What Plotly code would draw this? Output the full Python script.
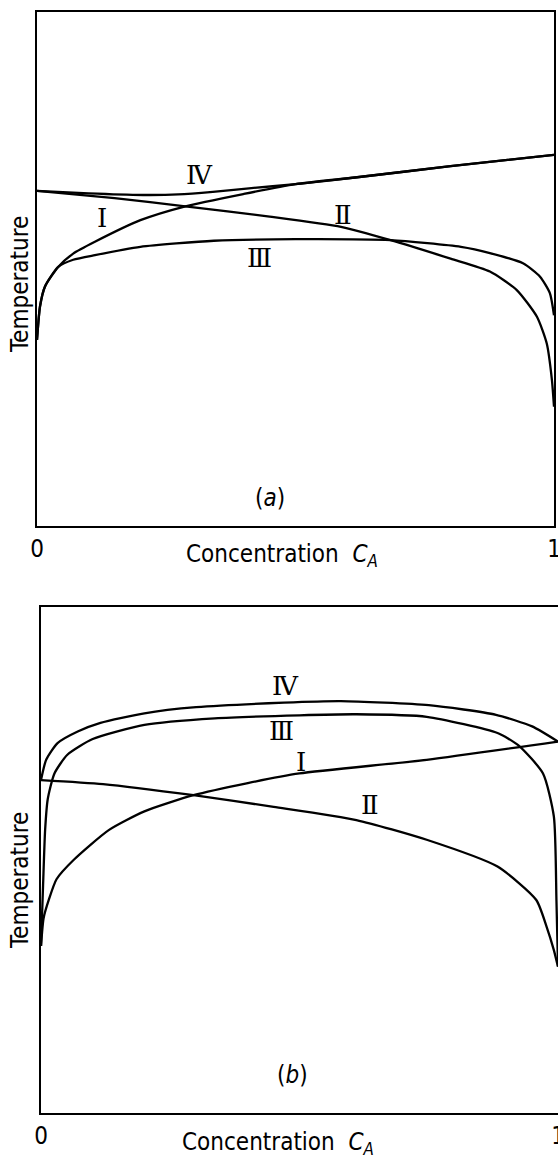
import plotly.graph_objects as go

# ---------- Panel (a) data (x: concentration C_A 0..1, y: relative temperature 0..1) ----------
a_I_x = [0, 0.0058, 0.0155, 0.041, 0.07, 0.112, 0.2, 0.287, 0.4, 0.5, 0.615, 0.8, 1.0]
a_I_y = [0.362, 0.427, 0.466, 0.504, 0.530, 0.553, 0.595, 0.622, 0.646, 0.665, 0.678, 0.700, 0.722]

a_II_x = [0, 0.15, 0.287, 0.45, 0.588, 0.684, 0.8, 0.876, 0.928, 0.967, 0.986, 0.996, 1.0]
a_II_y = [0.652, 0.638, 0.622, 0.602, 0.582, 0.556, 0.520, 0.495, 0.459, 0.407, 0.355, 0.284, 0.232]

a_III_x = [0, 0.0058, 0.0155, 0.041, 0.07, 0.112, 0.2, 0.342, 0.5, 0.684, 0.82, 0.876, 0.94, 0.973, 0.992, 1.0]
a_III_y = [0.362, 0.427, 0.466, 0.504, 0.518, 0.527, 0.543, 0.555, 0.558, 0.556, 0.543, 0.531, 0.511, 0.485, 0.453, 0.410]

a_IV_x = [0, 0.1, 0.205, 0.273, 0.34, 0.41, 0.5, 0.615, 0.8, 1.0]
a_IV_y = [0.652, 0.647, 0.644, 0.645, 0.650, 0.657, 0.665, 0.678, 0.700, 0.722]

# ---------- Panel (b) data ----------
b_I_x = [0, 0.005, 0.015, 0.03, 0.063, 0.131, 0.2, 0.295, 0.4, 0.5, 0.746, 1.0]
b_I_y = [0.33, 0.385, 0.421, 0.462, 0.500, 0.559, 0.596, 0.628, 0.652, 0.671, 0.698, 0.734]

b_II_x = [0, 0.12, 0.295, 0.45, 0.61, 0.746, 0.883, 0.958, 0.978, 0.992, 1.0]
b_II_y = [0.658, 0.650, 0.628, 0.605, 0.579, 0.540, 0.487, 0.421, 0.368, 0.322, 0.289]

b_III_x = [0, 0.004, 0.008, 0.013, 0.026, 0.051, 0.1, 0.2, 0.336, 0.5, 0.61, 0.746, 0.883, 0.923, 0.971, 0.992, 0.997, 1.0]
b_III_y = [0.33, 0.45, 0.56, 0.62, 0.671, 0.708, 0.739, 0.767, 0.780, 0.786, 0.788, 0.783, 0.751, 0.727, 0.671, 0.586, 0.42, 0.29]

b_IV_x = [0, 0.01, 0.032, 0.071, 0.115, 0.2, 0.3, 0.47, 0.58, 0.75, 0.88, 0.95, 1.0]
b_IV_y = [0.658, 0.698, 0.731, 0.754, 0.771, 0.790, 0.802, 0.811, 0.814, 0.806, 0.787, 0.764, 0.734]

curve_names = ["Ⅰ", "Ⅱ", "Ⅲ", "Ⅳ"]
tick_vals = [0, 1]
tick_text = ["0", "1"]

W, H = 558, 1156
FONT = "DejaVu Sans Condensed, DejaVu Sans, sans-serif"
SERIF = "DejaVu Serif, Liberation Serif, serif"
LINE = dict(color="black", width=2.3, shape="spline", smoothing=0.6)

fig = go.Figure()
panels = [
    ("x", "y", [(a_I_x, a_I_y), (a_II_x, a_II_y), (a_III_x, a_III_y), (a_IV_x, a_IV_y)]),
    ("x2", "y2", [(b_I_x, b_I_y), (b_II_x, b_II_y), (b_III_x, b_III_y), (b_IV_x, b_IV_y)]),
]
for xa, ya, curves in panels:
    for name, (cx, cy) in zip(curve_names, curves):
        fig.add_trace(go.Scatter(x=cx, y=cy, mode="lines", line=LINE, name=name,
                                 xaxis=xa, yaxis=ya, showlegend=False, hoverinfo="skip"))

axis_common = dict(showgrid=False, zeroline=False, showline=True, linecolor="black",
                   linewidth=1.8, ticks="", fixedrange=True, automargin=False)
xa_common = dict(axis_common, tickmode="array", tickvals=tick_vals, ticktext=tick_text,
                 ticklabeloverflow="allow",
                 tickfont=dict(family=FONT, size=24, color="black"), range=[0, 1])
ya_common = dict(axis_common, showticklabels=False, range=[0, 1])

fig.update_layout(
    width=W, height=H, autosize=False,
    margin=dict(l=0, r=0, t=0, b=0, autoexpand=False),
    paper_bgcolor="white", plot_bgcolor="white",
    xaxis=dict(xa_common, domain=[37 / W, 554 / W], anchor="y", mirror=True),
    yaxis=dict(ya_common, domain=[1 - 526 / H, 1 - 12 / H], anchor="x", mirror=True),
    xaxis2=dict(xa_common, domain=[41 / W, 1.0], anchor="y2", mirror=True),
    yaxis2=dict(ya_common, domain=[1 - 1113 / H, 1 - 607 / H], anchor="x2", mirror=False),
)

ann = []
lab_a = [(0.126, 0.599), (0.591, 0.605), (0.431, 0.521), (0.314, 0.683)]
lab_b = [(0.502, 0.694), (0.637, 0.609), (0.466, 0.754), (0.473, 0.843)]
for name, (lx, ly) in zip(curve_names, lab_a):
    ann.append(dict(x=lx, y=ly, xref="x", yref="y", text=name, showarrow=False,
                    xanchor="center", yanchor="middle",
                    font=dict(family=SERIF, size=26, color="black")))
for name, (lx, ly) in zip(curve_names, lab_b):
    ann.append(dict(x=lx, y=ly, xref="x2", yref="y2", text=name, showarrow=False,
                    xanchor="center", yanchor="middle",
                    font=dict(family=SERIF, size=26, color="black")))
# panel tags
ann.append(dict(x=0.451, y=0.054, xref="x", yref="y", text="(<i>a</i>)", showarrow=False,
                xanchor="center", yanchor="middle",
                font=dict(family=FONT, size=24, color="black")))
ann.append(dict(x=0.486, y=0.075, xref="x2", yref="y2", text="(<i>b</i>)", showarrow=False,
                xanchor="center", yanchor="middle",
                font=dict(family=FONT, size=24, color="black")))
# axis titles
for cy in [1 - 285 / H, 1 - 881 / H]:
    ann.append(dict(x=20 / W, y=cy, xref="paper", yref="paper", text="Temperature",
                    textangle=-90, showarrow=False, xanchor="center", yanchor="middle",
                    font=dict(family=FONT, size=24, color="black")))
for cx, cy in [(282 / W, 1 - 555 / H), (278 / W, 1 - 1143 / H)]:
    ann.append(dict(x=cx, y=cy, xref="paper", yref="paper",
                    text="Concentration  <i>C</i><sub><i>A</i></sub>",
                    showarrow=False, xanchor="center", yanchor="middle",
                    font=dict(family=FONT, size=24, color="black")))
fig.update_layout(annotations=ann)

fig.write_html("out.html", config={"displayModeBar": False},
               post_script="document.body.style.margin='0';document.body.style.overflow='hidden';")
